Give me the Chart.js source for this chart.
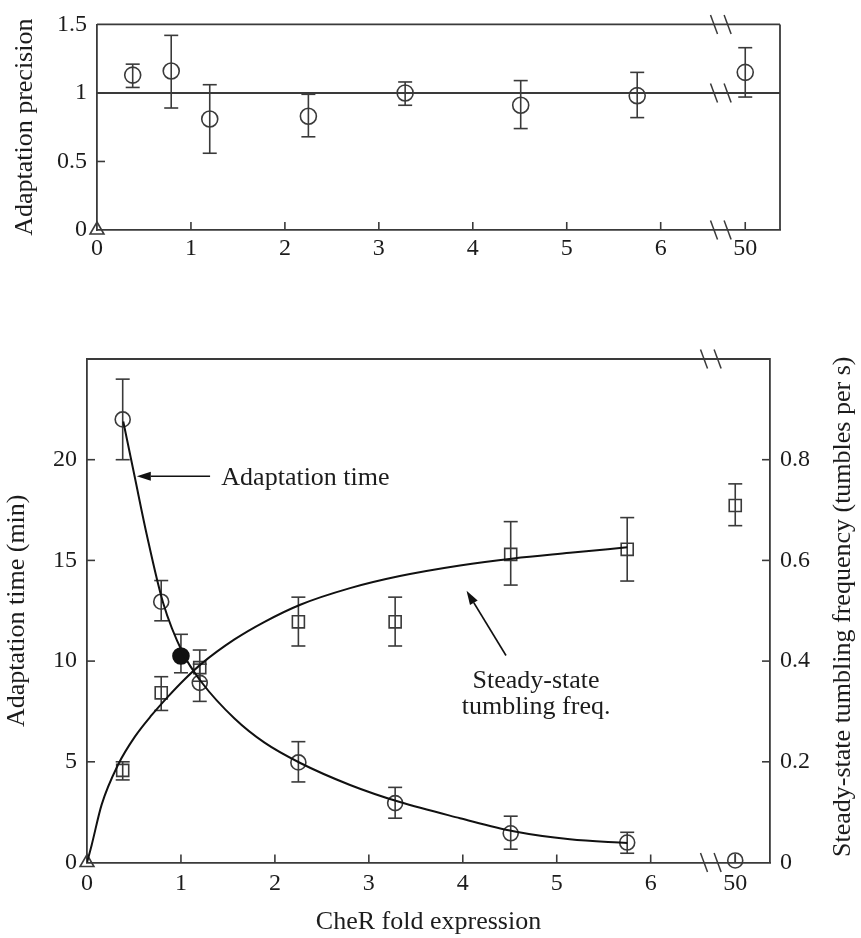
<!DOCTYPE html>
<html>
<head>
<meta charset="utf-8">
<script src="https://cdn.jsdelivr.net/npm/chart.js@4.4.1/dist/chart.umd.min.js"></script>
<style>
  html, body { margin: 0; padding: 0; background: #fff; }
  #wrap { position: relative; width: 861px; height: 938px; }
  #topChart { position: absolute; left: 0; top: 0; }
  #bottomChart { position: absolute; left: 0; top: 300px; }
</style>
</head>
<body>
<div id="wrap">
  <canvas id="topChart" width="861" height="270"></canvas>
  <canvas id="bottomChart" width="861" height="638"></canvas>
</div>
<script>
// tick labels
const xTickVals = [0, 1, 2, 3, 4, 5, 6, 50];
const precTicks = [0, 0.5, 1, 1.5];
const timeTicks = [0, 5, 10, 15, 20];
const tumbTicks = [0, 0.2, 0.4, 0.6, 0.8];

// top panel: adaptation precision
const precX  = [0.38, 0.79, 1.2, 2.25, 3.28, 4.51, 5.75, 50];
const precY  = [1.13, 1.16, 0.81, 0.83, 1.0, 0.91, 0.98, 1.15];
const precLo = [1.04, 0.89, 0.56, 0.68, 0.91, 0.74, 0.82, 0.97];
const precHi = [1.21, 1.42, 1.06, 0.99, 1.08, 1.09, 1.15, 1.33];

// bottom panel: adaptation time (min), left axis
const timeX  = [0.38, 0.79, 1.2, 2.25, 3.28, 4.51, 5.75, 50];
const timeY  = [22.0, 12.95, 8.92, 4.97, 2.95, 1.45, 0.99, 0.1];
const timeLo = [20.0, 12.0, 8.0, 4.0, 2.2, 0.66, 0.46, 0];
const timeHi = [24.0, 14.0, 9.85, 6.0, 3.73, 2.3, 1.5, 0.42];

// wild type point (filled)
const wtX  = [1.0];
const wtY  = [10.25];
const wtLo = [9.42];
const wtHi = [11.33];

// steady-state tumbling frequency (tumbles per s), right axis
const tumbX  = [0.38, 0.79, 1.2, 2.25, 3.28, 4.51, 5.75, 50];
const tumbY  = [0.183, 0.337, 0.387, 0.478, 0.478, 0.612, 0.622, 0.709];
const tumbLo = [0.164, 0.302, 0.36, 0.43, 0.43, 0.551, 0.559, 0.669];
const tumbHi = [0.20, 0.369, 0.422, 0.527, 0.527, 0.677, 0.685, 0.752];

// model curves
const timeCurveX = [0.386, 0.51, 0.635, 0.81, 1.02, 1.22, 1.57, 1.89, 2.27, 2.8, 3.33, 3.97, 4.54, 5.14, 5.75];
const timeCurveY = [21.9, 19.1, 16.3, 12.9, 10.4, 8.95, 7.15, 5.95, 4.94, 3.85, 3.0, 2.2, 1.55, 1.15, 0.97];
const tumbCurveX = [0, 0.05, 0.156, 0.333, 0.51, 0.69, 0.865, 1.04, 1.22, 1.57, 1.89, 2.27, 2.8, 3.33, 3.97, 4.54, 5.14, 5.75];
const tumbCurveY = [0, 0.035, 0.115, 0.195, 0.25, 0.293, 0.33, 0.364, 0.395, 0.443, 0.478, 0.512, 0.545, 0.569, 0.59, 0.604, 0.615, 0.626];

const AXIS = '#3a3a3a', INK = '#111', TEXT = '#1c1c1c';
const FONT = '"Liberation Serif", "Times New Roman", serif';
Chart.defaults.font.family = FONT;
Chart.defaults.font.size = 24;
Chart.defaults.color = TEXT;

// broken x axis: 50-fold is put just past the break
const BREAK_AT = 6.64, POS_50 = 6.9, X_MAX = 7.27;
const xPos = v => (v > 10 ? POS_50 : v);
const pts = (xs, ys) => xs.map((x, i) => ({ x: xPos(x), y: ys[i] }));
const TICK = 8, CAP = 7;

function stroke(ctx, x0, y0, x1, y1) {
    ctx.beginPath();
    ctx.moveTo(x0, y0);
    ctx.lineTo(x1, y1);
    ctx.stroke();
}

function arrow(ctx, x0, y0, x1, y1) {
    const ang = Math.atan2(y1 - y0, x1 - x0), L = 14, W = 4.5;
    const bx = x1 - L * Math.cos(ang), by = y1 - L * Math.sin(ang);
    ctx.strokeStyle = INK;
    ctx.fillStyle = INK;
    ctx.lineWidth = 1.6;
    stroke(ctx, x0, y0, bx, by);
    ctx.beginPath();
    ctx.moveTo(x1, y1);
    ctx.lineTo(bx + W * Math.sin(ang), by - W * Math.cos(ang));
    ctx.lineTo(bx - W * Math.sin(ang), by + W * Math.cos(ang));
    ctx.closePath();
    ctx.fill();
}

function makeDecor(cfg) {
    return {
        id: 'decor',
        beforeDatasetsDraw(chart) {
            const ctx = chart.ctx;
            ctx.save();
            ctx.strokeStyle = AXIS;
            ctx.lineWidth = 1.6;
            cfg.bars.forEach(set => {
                const xs = chart.scales.x, ys = chart.scales[set.axis];
                set.x.forEach((xv, i) => {
                    const px = xs.getPixelForValue(xPos(xv));
                    const pc = ys.getPixelForValue(set.y[i]);
                    const pLo = ys.getPixelForValue(set.lo[i]);
                    const pHi = ys.getPixelForValue(set.hi[i]);
                    stroke(ctx, px, pLo, px, pHi);
                    if (pLo - pc > set.r) stroke(ctx, px - CAP, pLo, px + CAP, pLo);
                    if (pc - pHi > set.r) stroke(ctx, px - CAP, pHi, px + CAP, pHi);
                });
            });
            ctx.restore();
        },
        afterDraw(chart) {
            const ctx = chart.ctx, a = chart.chartArea;
            ctx.save();
            ctx.strokeStyle = AXIS;
            ctx.lineWidth = 1.8;
            stroke(ctx, a.left, a.top, a.right, a.top);
            if (cfg.frameRight) stroke(ctx, a.right, a.top, a.right, a.bottom);

            // ticks point into the plot
            ctx.lineWidth = 1.6;
            Object.values(chart.scales).forEach(scale => {
                scale.ticks.forEach(t => {
                    const p = scale.getPixelForValue(t.value);
                    if (scale.isHorizontal()) {
                        if (Math.abs(p - a.left) < 2 || Math.abs(p - a.right) < 2) return;
                        stroke(ctx, p, a.bottom, p, a.bottom - TICK);
                    } else {
                        if (Math.abs(p - a.top) < 2 || Math.abs(p - a.bottom) < 2) return;
                        if (scale.position === 'left') stroke(ctx, a.left, p, a.left + TICK, p);
                        else stroke(ctx, a.right, p, a.right - TICK, p);
                    }
                });
            });

            // axis break marks
            const bx = chart.scales.x.getPixelForValue(BREAK_AT);
            const rows = [a.top, a.bottom].concat(cfg.breakY.map(v => chart.scales.y.getPixelForValue(v)));
            ctx.lineWidth = 1.5;
            rows.forEach(py => {
                [-6.8, 6.8].forEach(d => stroke(ctx, bx + d - 3.5, py - 9.5, bx + d + 3.5, py + 9.5));
            });
            ctx.restore();
            if (cfg.notes) cfg.notes(chart);
        }
    };
}

function xAxis(title, pad) {
    return {
        type: 'linear',
        min: 0,
        max: X_MAX,
        afterBuildTicks: s => { s.ticks = xTickVals.map(v => ({ value: xPos(v) })); },
        ticks: { callback: (v, i) => String(xTickVals[i]), padding: pad, maxRotation: 0, autoSkip: false },
        grid: { display: false, drawTicks: false },
        border: { color: AXIS, width: 1.8 },
        title: title
            ? { display: true, text: title, font: { size: 26 }, padding: { top: 0, bottom: 0 } }
            : { display: false }
    };
}

function yAxis(min, max, tickVals, title, pos, width, titlePad) {
    return {
        type: 'linear',
        position: pos,
        min: min,
        max: max,
        afterBuildTicks: s => { s.ticks = tickVals.map(v => ({ value: v })); },
        afterFit: s => { s.width = width; },
        ticks: { padding: 10, callback: v => String(v) },
        grid: { display: false, drawTicks: false },
        border: { color: AXIS, width: 1.8 },
        title: title
            ? { display: true, text: title, font: { size: 26 }, padding: { top: titlePad, bottom: 0 } }
            : { display: false }
    };
}

const markerStyle = {
    showLine: false,
    borderColor: AXIS,
    backgroundColor: 'rgba(0,0,0,0)',
    pointBorderWidth: 1.6,
    clip: false
};
const curveStyle = {
    showLine: true,
    borderColor: INK,
    borderWidth: 2,
    pointRadius: 0,
    cubicInterpolationMode: 'monotone',
    fill: false
};

// ---- top panel ----
const topX = xAxis(null, 4);
topX.afterFit = s => { s.height = 40; };

new Chart(document.getElementById('topChart'), {
    type: 'scatter',
    data: {
        datasets: [
            Object.assign({}, curveStyle, {
                data: [{ x: 0, y: 1 }, { x: X_MAX, y: 1 }],
                borderColor: AXIS,
                cubicInterpolationMode: 'default'
            }),
            Object.assign({}, markerStyle, { data: pts(precX, precY), pointStyle: 'circle', pointRadius: 8 }),
            Object.assign({}, markerStyle, { data: [{ x: 0, y: 0 }], pointStyle: 'triangle', pointRadius: 8 })
        ]
    },
    options: {
        responsive: false,
        animation: false,
        events: [],
        layout: { padding: { top: 23, right: 81, left: 0, bottom: 0 } },
        plugins: { legend: { display: false }, tooltip: { enabled: false } },
        scales: {
            x: topX,
            y: yAxis(0, 1.5, precTicks, 'Adaptation precision', 'left', 97, 10)
        }
    },
    plugins: [makeDecor({
        bars: [{ axis: 'y', x: precX, y: precY, lo: precLo, hi: precHi, r: 8 }],
        frameRight: true,
        breakY: [1]
    })]
});

// ---- bottom panel ----
function bottomNotes(chart) {
    const ctx = chart.ctx, a = chart.chartArea;
    const X = v => chart.scales.x.getPixelForValue(v);
    const Y = v => chart.scales.y.getPixelForValue(v);
    ctx.save();
    ctx.fillStyle = TEXT;
    ctx.font = '26px ' + FONT;
    ctx.textBaseline = 'alphabetic';
    ctx.textAlign = 'left';
    ctx.fillText('Adaptation time', X(1.43), Y(18.75));
    ctx.textAlign = 'center';
    ctx.fillText('Steady-state', X(4.78), Y(8.68));
    ctx.fillText('tumbling freq.', X(4.78), Y(7.35));
    arrow(ctx, X(1.31), Y(19.18), X(0.53), Y(19.18));
    arrow(ctx, X(4.46), Y(10.28), X(4.04), Y(13.49));
    ctx.restore();

    // right axis title reads bottom to top, like the left one
    ctx.save();
    ctx.fillStyle = TEXT;
    ctx.font = '26px ' + FONT;
    ctx.textAlign = 'center';
    ctx.textBaseline = 'middle';
    ctx.translate(843, (a.top + a.bottom) / 2 - 4);
    ctx.rotate(-Math.PI / 2);
    ctx.fillText('Steady-state tumbling frequency (tumbles per s)', 0, 0);
    ctx.restore();
}

const botX = xAxis('CheR fold expression', 7);
botX.afterFit = s => { s.height = 75.5; };

new Chart(document.getElementById('bottomChart'), {
    type: 'scatter',
    data: {
        datasets: [
            Object.assign({}, curveStyle, { data: pts(timeCurveX, timeCurveY), yAxisID: 'y' }),
            Object.assign({}, curveStyle, { data: pts(tumbCurveX, tumbCurveY), yAxisID: 'y1' }),
            Object.assign({}, markerStyle, { data: pts(timeX, timeY), yAxisID: 'y', pointStyle: 'circle', pointRadius: 7.5 }),
            Object.assign({}, markerStyle, { data: pts(tumbX, tumbY), yAxisID: 'y1', pointStyle: 'rect', pointRadius: 8.5 }),
            Object.assign({}, markerStyle, {
                data: pts(wtX, wtY), yAxisID: 'y', pointStyle: 'circle', pointRadius: 8,
                backgroundColor: INK, borderColor: INK
            }),
            Object.assign({}, markerStyle, { data: [{ x: 0, y: 0 }], yAxisID: 'y', pointStyle: 'triangle', pointRadius: 8 })
        ]
    },
    options: {
        responsive: false,
        animation: false,
        events: [],
        layout: { padding: { top: 59, right: 0, left: 0, bottom: 0 } },
        plugins: { legend: { display: false }, tooltip: { enabled: false } },
        scales: {
            x: botX,
            y: yAxis(0, 25, timeTicks, 'Adaptation time (min)', 'left', 87, 2),
            y1: yAxis(0, 1, tumbTicks, null, 'right', 91, 0)
        }
    },
    plugins: [makeDecor({
        bars: [
            { axis: 'y', x: timeX, y: timeY, lo: timeLo, hi: timeHi, r: 7.5 },
            { axis: 'y', x: wtX, y: wtY, lo: wtLo, hi: wtHi, r: 8 },
            { axis: 'y1', x: tumbX, y: tumbY, lo: tumbLo, hi: tumbHi, r: 5 }
        ],
        frameRight: false,
        breakY: [],
        notes: bottomNotes
    })]
});
</script>
</body>
</html>
